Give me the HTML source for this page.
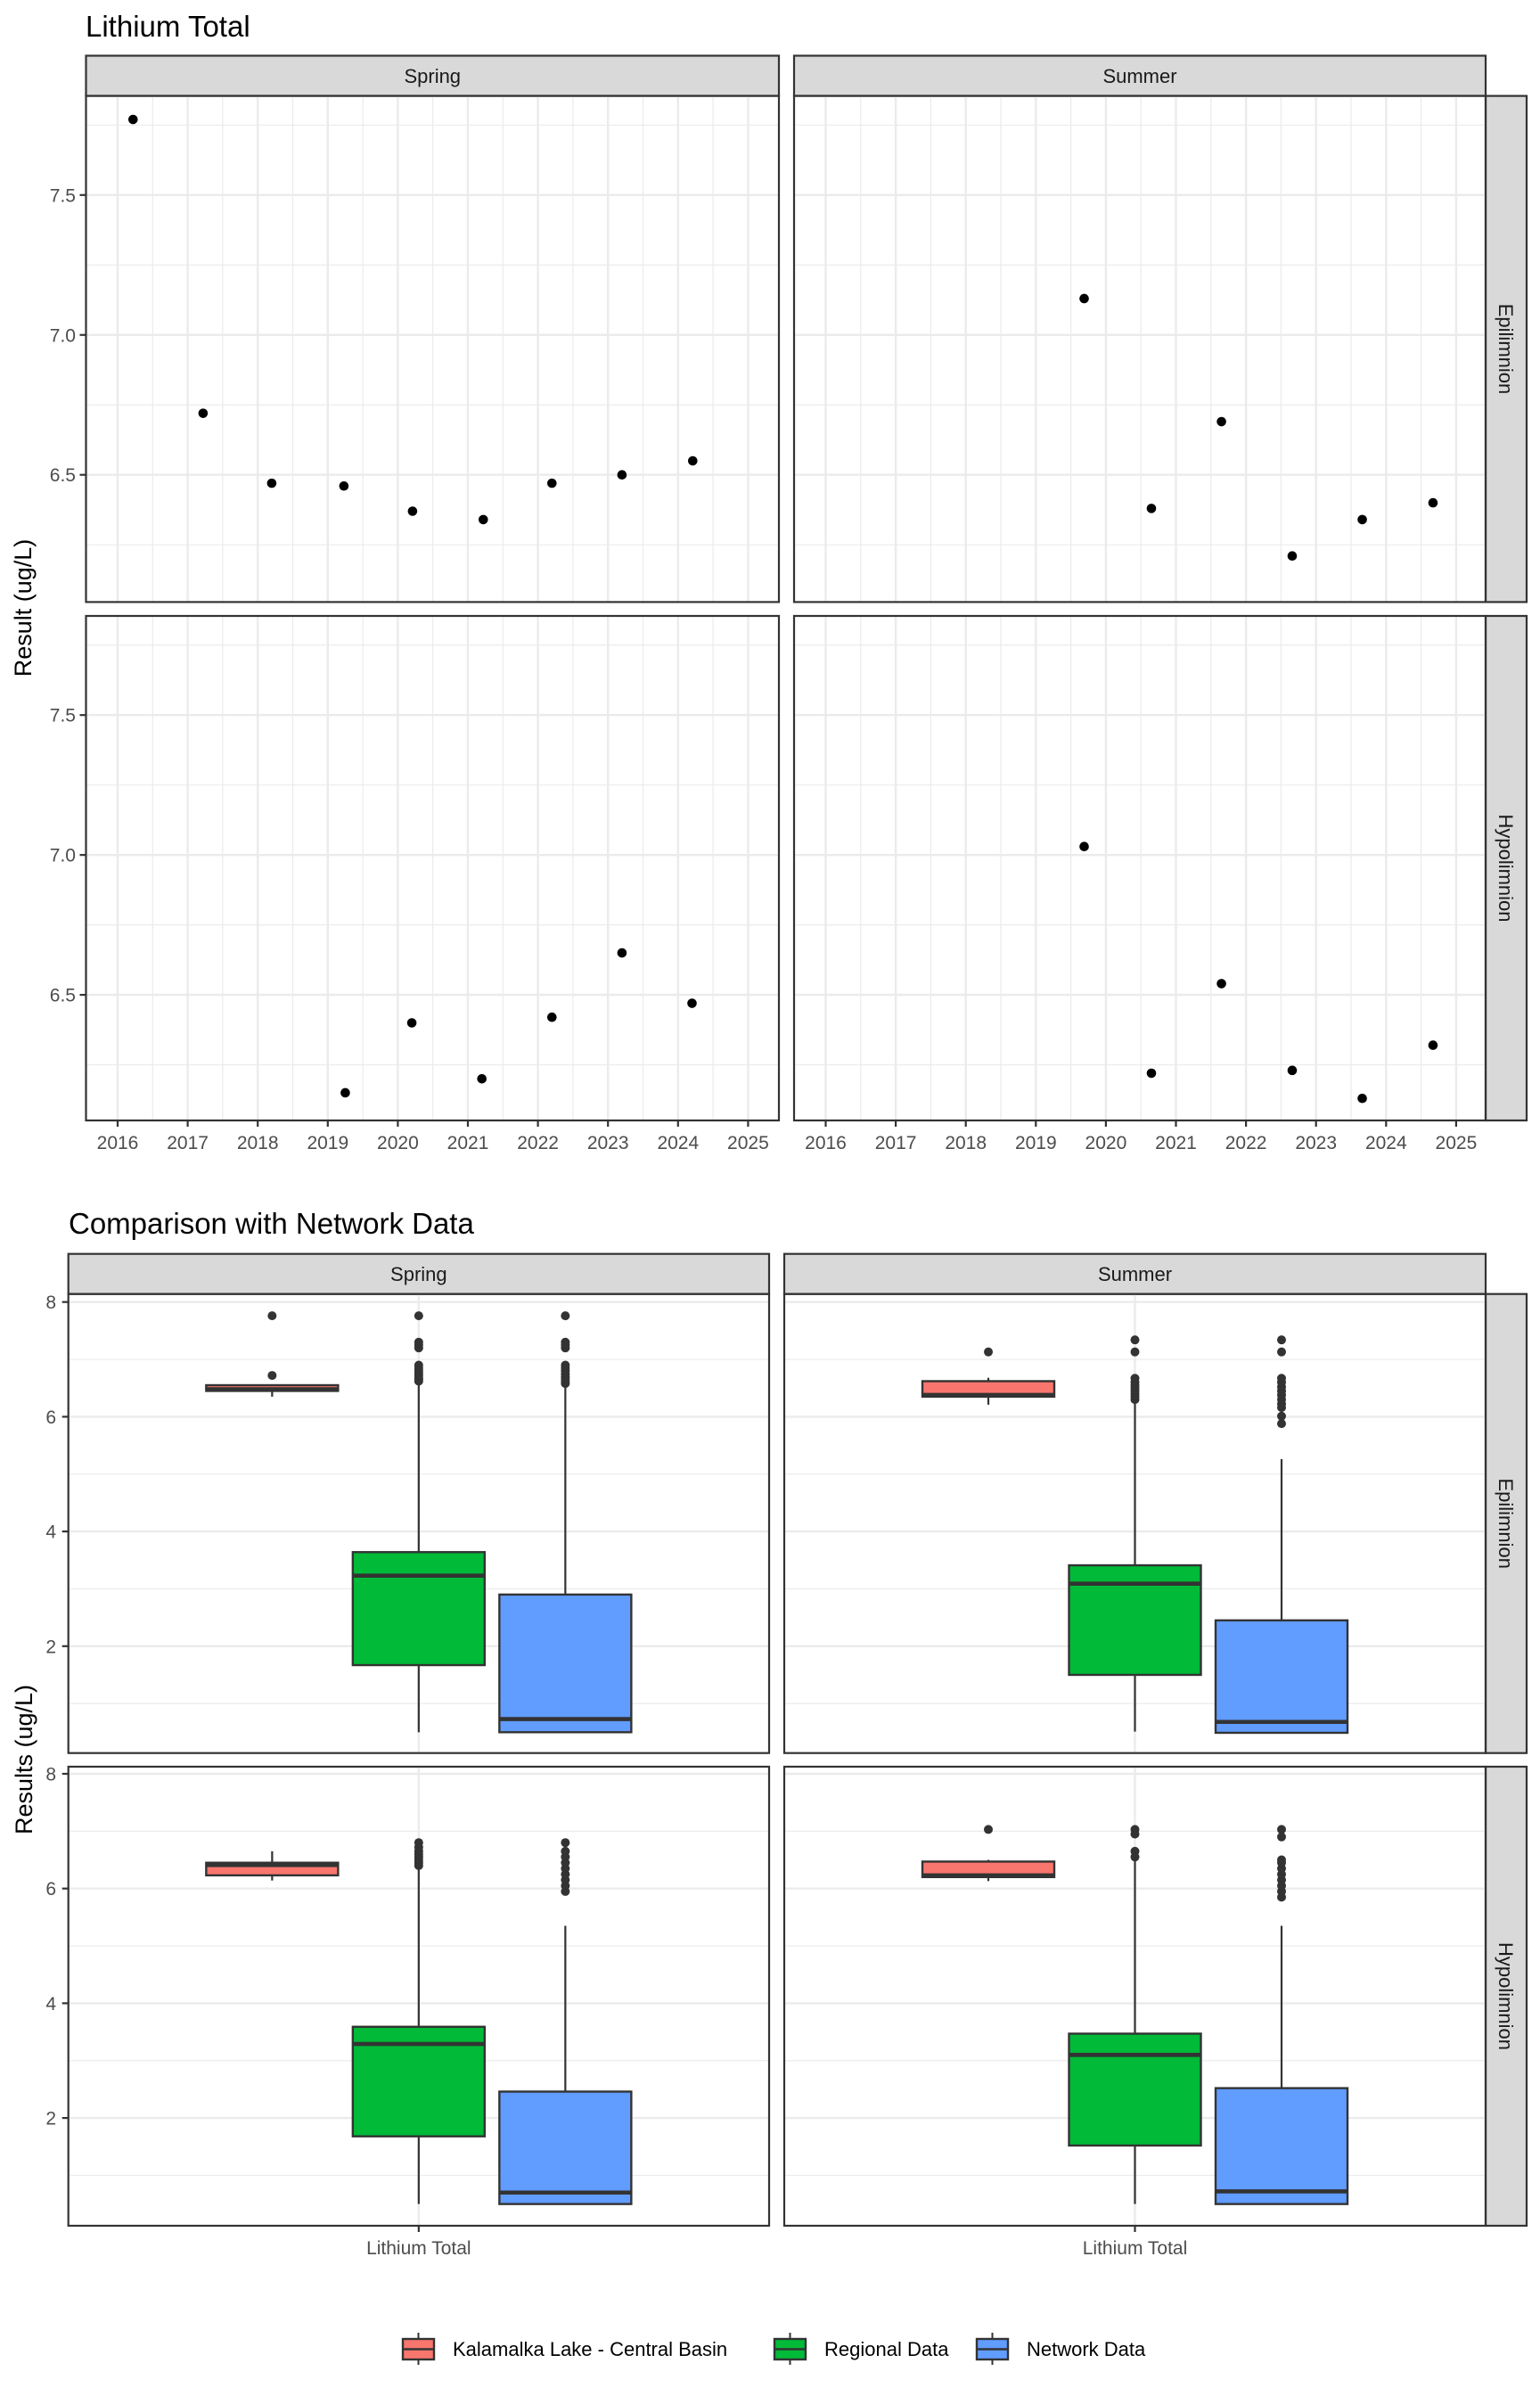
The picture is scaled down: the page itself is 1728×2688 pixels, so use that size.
<!DOCTYPE html>
<html><head><meta charset="utf-8"><style>
html,body{margin:0;padding:0;background:#fff;}
svg{display:block;font-family:"Liberation Sans",Arial,sans-serif;}
</style></head><body>
<svg id="fig" xmlns="http://www.w3.org/2000/svg" width="1728" height="2688" viewBox="0 0 1728 2688">
<rect x="0" y="0" width="1728" height="2688" fill="#fff"/>
<text x="96" y="41" font-size="33" fill="#000">Lithium Total</text>
<text x="77" y="1384" font-size="33" fill="#000">Comparison with Network Data</text>
<text transform="translate(35,682) rotate(-90)" text-anchor="middle" font-size="27" fill="#000">Result (ug/L)</text>
<text transform="translate(36,1974) rotate(-90)" text-anchor="middle" font-size="27" fill="#000">Results (ug/L)</text>
<g id="topsec"></g>
<g id="bottom"></g>
<g id="legend"></g>
</svg>
<script>
// ---------- time series data ----------
const springEpiYears=[2016.22,2017.22,2018.2,2019.23,2020.21,2021.22,2022.2,2023.2,2024.21];
const springEpiValues=[7.77,6.72,6.47,6.46,6.37,6.34,6.47,6.50,6.55];
const summerEpiYears=[2019.69,2020.65,2021.65,2022.66,2023.66,2024.67];
const summerEpiValues=[7.13,6.38,6.69,6.21,6.34,6.40];
const springHypoYears=[2019.25,2020.2,2021.2,2022.2,2023.2,2024.2];
const springHypoValues=[6.15,6.40,6.20,6.42,6.65,6.47];
const summerHypoYears=[2019.69,2020.65,2021.65,2022.66,2023.66,2024.67];
const summerHypoValues=[7.03,6.22,6.54,6.23,6.13,6.32];
const yearTicks=[2016,2017,2018,2019,2020,2021,2022,2023,2024,2025];
const resultTicks=[6.5,7.0,7.5];
const resultTickLabels=["6.5","7.0","7.5"];
// ---------- boxplot data ----------
const groups=["Kalamalka Lake - Central Basin","Regional Data","Network Data"];
const boxTicks=[2,4,6,8];
const lowerWhisker=[[6.35,0.5,0.5],[6.21,0.51,0.49],[6.14,0.5,0.5],[6.13,0.5,0.5]];
const q1=[[6.45,1.67,0.5],[6.35,1.5,0.49],[6.23,1.68,0.5],[6.2,1.52,0.5]];
const medians=[[6.48,3.23,0.73],[6.38,3.09,0.68],[6.41,3.29,0.7],[6.23,3.1,0.72]];
const q3=[[6.55,3.64,2.9],[6.62,3.41,2.45],[6.45,3.59,2.46],[6.47,3.47,2.52]];
const upperWhisker=[[6.55,6.6,6.55],[6.68,6.27,5.26],[6.65,6.35,5.35],[6.5,6.5,5.35]];
const outliers=[
 [[7.76,6.72],[6.62,6.65,6.68,6.72,6.76,6.8,6.85,6.9,7.2,7.25,7.3,7.76],[6.58,6.62,6.66,6.7,6.75,6.8,6.85,6.9,7.2,7.25,7.3,7.76]],
 [[7.13],[6.3,6.35,6.4,6.45,6.5,6.55,6.6,6.67,7.13,7.34],[5.88,6.01,6.16,6.22,6.3,6.38,6.45,6.52,6.6,6.67,7.13,7.34]],
 [[],[6.4,6.45,6.5,6.55,6.6,6.65,6.72,6.8],[5.95,6.05,6.15,6.25,6.35,6.45,6.55,6.65,6.8]],
 [[7.03],[6.55,6.65,6.95,7.03],[5.85,5.95,6.05,6.15,6.25,6.35,6.45,6.5,6.9,7.03]]
];
const fills=["#F8766D","#00BA38","#619CFF"];

const NS="http://www.w3.org/2000/svg";
function mk(parent,tag,attrs,txt){const e=document.createElementNS(NS,tag);for(const k in attrs)e.setAttribute(k,attrs[k]);if(txt!==undefined)e.textContent=txt;parent.appendChild(e);return e;}

// ---------- top section ----------
const topG=document.getElementById('topsec');
const tsCols=[{x0:96.5,x1:874,label:"Spring"},{x0:891,x1:1667,label:"Summer"}];
const tsRows=[{y0:107.6,y1:675.4,label:"Epilimnion"},{y0:691,y1:1257,label:"Hypolimnion"}];
const tsYears=[[springEpiYears,summerEpiYears],[springHypoYears,summerHypoYears]];
const tsVals=[[springEpiValues,summerEpiValues],[springHypoValues,summerHypoValues]];
const tsNames=[["spring-epilimnion","summer-epilimnion"],["spring-hypolimnion","summer-hypolimnion"]];
function tsX(col,yr){return tsCols[col].x0+35.5+(yr-2016)*78.6;}
function tsY(row,v){return tsRows[row].y0+111.2+(7.5-v)*313.9;}
tsCols.forEach((c,ci)=>{
  const s=mk(topG,'rect',{x:c.x0,y:62.5,width:c.x1-c.x0,height:45,fill:'#d9d9d9',stroke:'#333','stroke-width':2.2});
  
  
  const t=mk(topG,'text',{x:(c.x0+c.x1)/2,y:93,'text-anchor':'middle','font-size':22,fill:'#1a1a1a'},c.label);
  
  
});
tsRows.forEach((r,ri)=>{
  const s=mk(topG,'rect',{x:1667,y:r.y0,width:46,height:r.y1-r.y0,fill:'#d9d9d9',stroke:'#333','stroke-width':2.2});
  
  
  const t=mk(topG,'text',{transform:`translate(1682,${(r.y0+r.y1)/2}) rotate(90)`,'text-anchor':'middle','font-size':22,fill:'#1a1a1a'},r.label);
  
  
  tsCols.forEach((c,ci)=>{
    const g=mk(topG,'g',{});
    
    
    for(let v=6.25;v<=7.8;v+=0.5){mk(g,'line',{x1:c.x0,x2:c.x1,y1:tsY(ri,v),y2:tsY(ri,v),stroke:'#ebebeb','stroke-width':1.2});}
    for(let k=0;k<yearTicks.length;k++){const xm=tsX(ci,yearTicks[k]+0.5);if(xm<c.x1)mk(g,'line',{x1:xm,x2:xm,y1:r.y0,y2:r.y1,stroke:'#ebebeb','stroke-width':1.2});}
    resultTicks.forEach(v=>mk(g,'line',{x1:c.x0,x2:c.x1,y1:tsY(ri,v),y2:tsY(ri,v),stroke:'#ebebeb','stroke-width':2.4}));
    yearTicks.forEach(yv=>mk(g,'line',{x1:tsX(ci,yv),x2:tsX(ci,yv),y1:r.y0,y2:r.y1,stroke:'#ebebeb','stroke-width':2.4}));
    const ys=tsYears[ri][ci], vs=tsVals[ri][ci];
    for(let i=0;i<vs.length;i++){
      const p=mk(g,'circle',{cx:tsX(ci,ys[i]),cy:tsY(ri,vs[i]),r:5.3,fill:'#000'});
      
      
    }
    const b=mk(g,'rect',{x:c.x0,y:r.y0,width:c.x1-c.x0,height:r.y1-r.y0,fill:'none',stroke:'#333','stroke-width':2.2});
    
    
  });
  resultTicks.forEach((v,k)=>{
    mk(topG,'line',{x1:89.5,x2:96.5,y1:tsY(ri,v),y2:tsY(ri,v),stroke:'#333','stroke-width':2.2});
    const t=mk(topG,'text',{x:85,y:tsY(ri,v)+7.5,'text-anchor':'end','font-size':21,fill:'#4d4d4d'},resultTickLabels[k]);
    
    
  });
});
tsCols.forEach((c,ci)=>{
  yearTicks.forEach(yv=>{
    mk(topG,'line',{x1:tsX(ci,yv),x2:tsX(ci,yv),y1:1257,y2:1264,stroke:'#333','stroke-width':2.2});
    const t=mk(topG,'text',{x:tsX(ci,yv),y:1289,'text-anchor':'middle','font-size':21,fill:'#4d4d4d'},String(yv));
    
    
  });
});

// ---------- bottom section ----------
const bot=document.getElementById('bottom');
const bCols=[{x0:76.7,x1:863,label:"Spring"},{x0:880,x1:1667,label:"Summer"}];
const bRows=[{y0:1451.7,y1:1966.7,label:"Epilimnion"},{y0:1982,y1:2497,label:"Hypolimnion"}];
const bNames=[["spring-epilimnion","summer-epilimnion"],["spring-hypolimnion","summer-hypolimnion"]];
function bY(row,v){return bRows[row].y0+(row===0?9:8)+(8-v)*64.35;}
function bX(col,gi){return (bCols[col].x0+bCols[col].x1)/2+(gi-1)*164.5;}
const boxW=148;
bCols.forEach(c=>{
  const s=mk(bot,'rect',{x:c.x0,y:1406.7,width:c.x1-c.x0,height:45,fill:'#d9d9d9',stroke:'#333','stroke-width':2.2});
  
  
  const t=mk(bot,'text',{x:(c.x0+c.x1)/2,y:1437,'text-anchor':'middle','font-size':22,fill:'#1a1a1a'},c.label);
  
  
});
bRows.forEach((r,ri)=>{
  const s=mk(bot,'rect',{x:1667,y:r.y0,width:46,height:r.y1-r.y0,fill:'#d9d9d9',stroke:'#333','stroke-width':2.2});
  
  
  const t=mk(bot,'text',{transform:`translate(1682,${(r.y0+r.y1)/2}) rotate(90)`,'text-anchor':'middle','font-size':22,fill:'#1a1a1a'},r.label);
  
  
  bCols.forEach((c,ci)=>{
    const pi=ri*2+ci;
    const g=mk(bot,'g',{});
    
    
    [1,3,5,7].forEach(v=>mk(g,'line',{x1:c.x0,x2:c.x1,y1:bY(ri,v),y2:bY(ri,v),stroke:'#ebebeb','stroke-width':1.2}));
    boxTicks.forEach(v=>mk(g,'line',{x1:c.x0,x2:c.x1,y1:bY(ri,v),y2:bY(ri,v),stroke:'#ebebeb','stroke-width':2.4}));
    const cx=(c.x0+c.x1)/2;
    mk(g,'line',{x1:cx,x2:cx,y1:r.y0,y2:r.y1,stroke:'#ebebeb','stroke-width':2.4});
    groups.forEach((gn,gi)=>{
      const x=bX(ci,gi);
      const bg=mk(g,'g',{});
      
      
      mk(bg,'line',{x1:x,x2:x,y1:bY(ri,upperWhisker[pi][gi]),y2:bY(ri,q3[pi][gi]),stroke:'#333','stroke-width':2.2});
      mk(bg,'line',{x1:x,x2:x,y1:bY(ri,q1[pi][gi]),y2:bY(ri,lowerWhisker[pi][gi]),stroke:'#333','stroke-width':2.2});
      const yt=bY(ri,q3[pi][gi]), yb=bY(ri,q1[pi][gi]);
      mk(bg,'rect',{x:x-boxW/2,y:yt,width:boxW,height:Math.max(yb-yt,1),fill:fills[gi],stroke:'#333','stroke-width':2.4});
      const ym=bY(ri,medians[pi][gi]);
      mk(bg,'line',{x1:x-boxW/2,x2:x+boxW/2,y1:ym,y2:ym,stroke:'#333','stroke-width':4.6});
      outliers[pi][gi].forEach(v=>{
        const o=mk(bg,'circle',{cx:x,cy:bY(ri,v),r:5,fill:'#333'});
        
        
      });
    });
    const b=mk(g,'rect',{x:c.x0,y:r.y0,width:c.x1-c.x0,height:r.y1-r.y0,fill:'none',stroke:'#333','stroke-width':2.2});
    
    
  });
  boxTicks.forEach(v=>{
    mk(bot,'line',{x1:69.7,x2:76.7,y1:bY(ri,v),y2:bY(ri,v),stroke:'#333','stroke-width':2.2});
    const t=mk(bot,'text',{x:63,y:bY(ri,v)+7.5,'text-anchor':'end','font-size':21,fill:'#4d4d4d'},String(v));
    
    
  });
});
bCols.forEach(c=>{
  const cx=(c.x0+c.x1)/2;
  mk(bot,'line',{x1:cx,x2:cx,y1:2497,y2:2504,stroke:'#333','stroke-width':2.2});
  const t=mk(bot,'text',{x:cx,y:2529,'text-anchor':'middle','font-size':21,fill:'#4d4d4d'},"Lithium Total");
  
  
});

// ---------- legend ----------
const leg=document.getElementById('legend');
const legX=[452,869,1096];
groups.forEach((gn,gi)=>{
  const g=mk(leg,'g',{});
  
  
  const x=legX[gi];
  mk(g,'line',{x1:x+17.5,x2:x+17.5,y1:2617,y2:2653,stroke:'#333','stroke-width':2});
  mk(g,'rect',{x:x,y:2624,width:35,height:23,fill:fills[gi],stroke:'#333','stroke-width':2.4});
  mk(g,'line',{x1:x,x2:x+35,y1:2635.5,y2:2635.5,stroke:'#333','stroke-width':2.4});
  mk(g,'text',{x:x+56,y:2643,'font-size':22,fill:'#000'},gn);
});
</script>
</body></html>
